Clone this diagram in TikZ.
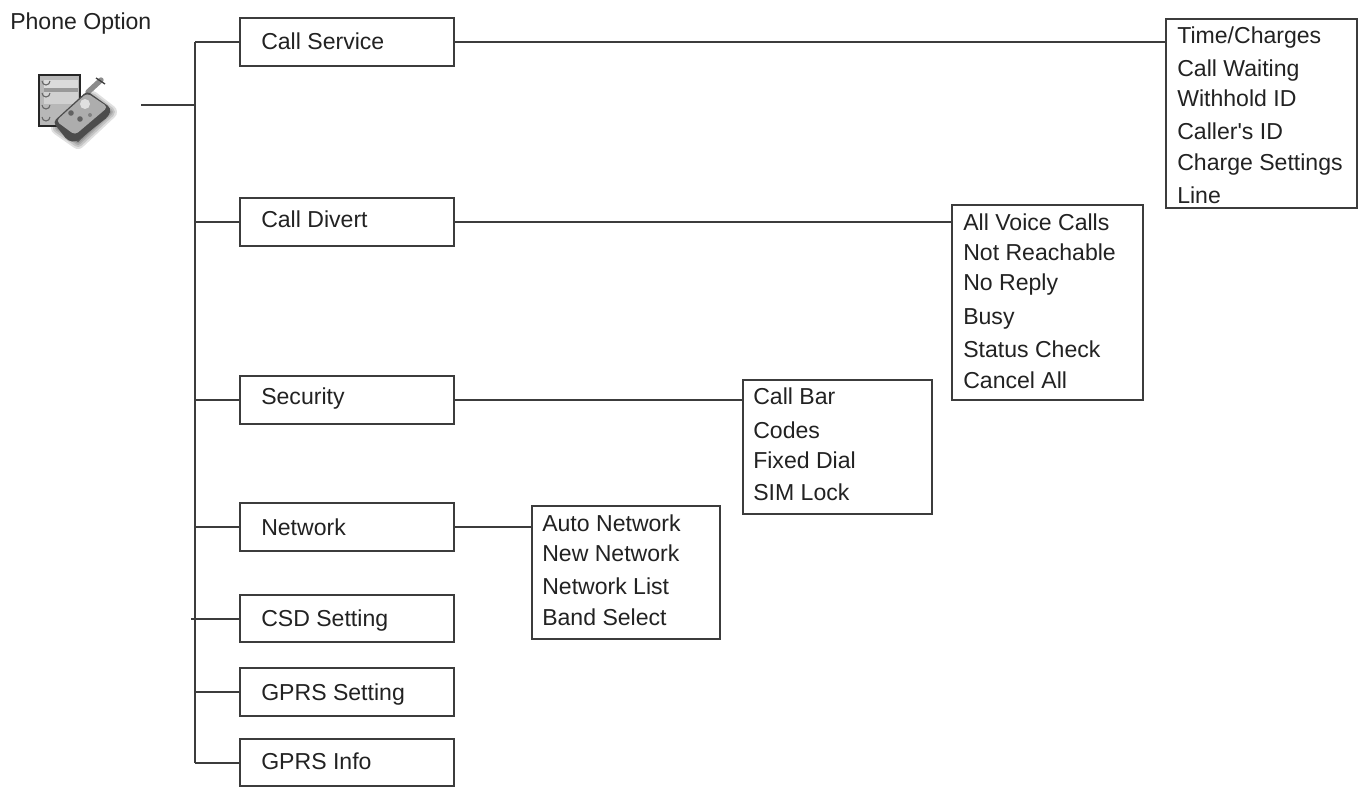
\documentclass[tikz,border=0pt]{standalone}
\usepackage{fontspec}
\newfontfamily\plainsans{Liberation Sans}
\definecolor{ln}{HTML}{3C3C3C}
\definecolor{tx}{HTML}{222222}
\tikzset{
 mbox/.style={draw=ln,line width=1.3pt,fill=white,inner sep=0pt},
 conn/.style={draw=ln,line width=1.5pt},
 lab/.style={anchor=base west,inner sep=0pt,text=tx,font=\plainsans\fontsize{17.3pt}{20pt}\selectfont},
}
\begin{document}
\begin{tikzpicture}[x=0.75pt,y=-0.75pt]
\useasboundingbox (0,0) rectangle (1370,793);
\fill[white] (0,0) rectangle (1370,793);
% main boxes
\node[mbox,minimum width=160.5pt,minimum height=36.5pt] (svc) at (347,42) {};
\node[mbox,minimum width=160.5pt,minimum height=36pt] (div) at (347,222) {};
\node[mbox,minimum width=160.5pt,minimum height=36.5pt] (sec) at (347,400) {};
\node[mbox,minimum width=160.5pt,minimum height=36pt] (net) at (347,527) {};
\node[mbox,minimum width=160.5pt,minimum height=35.25pt] (csd) at (347,618.5) {};
\node[mbox,minimum width=160.5pt,minimum height=36pt] (gs) at (347,692) {};
\node[mbox,minimum width=160.5pt,minimum height=35.25pt] (gi) at (347,762.5) {};
% sub boxes
\node[mbox,minimum width=143.25pt,minimum height=141.75pt] (tc) at (1261.5,113.5) {};
\node[mbox,minimum width=143.25pt,minimum height=146.25pt] (dv) at (1047.5,302.5) {};
\node[mbox,minimum width=141.75pt,minimum height=100.5pt] (sc) at (837.5,447) {};
\node[mbox,minimum width=141pt,minimum height=99.75pt] (nw) at (626,572.5) {};
% spine
\coordinate (top) at (195,42);
\coordinate (bot) at (195,762.5);
\coordinate (stub) at (141,105);
\draw[conn] (top) -- (bot);
\draw[conn] (stub) -- (stub -| top);
\foreach \n in {svc,div,sec,net,gs,gi}{\draw[conn] (\n.west) -- (\n.west -| top);}
\draw[conn] (csd.west) -- ([xshift=-3pt]csd.west -| top);
% horizontal links
\draw[conn] (svc.east) -- (svc.east -| tc.west);
\draw[conn] (div.east) -- (div.east -| dv.west);
\draw[conn] (sec.east) -- (sec.east -| sc.west);
\draw[conn] (net.east) -- (net.east -| nw.west);
% labels
\node[lab] (t0) at (10,29) {Phone Option};
\node[lab] (t1) at (261,49) {Call Service};
\node[lab] (t2) at (261,227) {Call Divert};
\node[lab] (t3) at (261,404) {Security};
\node[lab] (t4) at (261,535) {Network};
\node[lab] (t5) at (261,626) {CSD Setting};
\node[lab] (t6) at (261,700) {GPRS Setting};
\node[lab] (t7) at (261,769) {GPRS Info};
\node[lab] (a1) at (1177,43) {Time/Charges};
\node[lab] (a2) at (1177,76) {Call Waiting};
\node[lab] (a3) at (1177,106) {Withhold ID};
\node[lab] (a4) at (1177,139) {Caller's ID};
\node[lab] (a5) at (1177,170) {Charge Settings};
\node[lab] (a6) at (1177,203) {Line};
\node[lab] (b1) at (963,230) {All Voice Calls};
\node[lab] (b2) at (963,260) {Not Reachable};
\node[lab] (b3) at (963,290) {No Reply};
\node[lab] (b4) at (963,324) {Busy};
\node[lab] (b5) at (963,357) {Status Check};
\node[lab] (b6) at (963,388) {Cancel All};
\node[lab] (c1) at (753,404) {Call Bar};
\node[lab] (c2) at (753,438) {Codes};
\node[lab] (c3) at (753,468) {Fixed Dial};
\node[lab] (c4) at (753,500) {SIM Lock};
\node[lab] (d1) at (542,531) {Auto Network};
\node[lab] (d2) at (542,561) {New Network};
\node[lab] (d3) at (542,594) {Network List};
\node[lab] (d4) at (542,625) {Band Select};
% icon: soft shadow
\foreach \w in {14,10,6,3}{
 \fill[black,opacity=0.12,draw=black,line width=\w*0.75pt,line join=round]
   (58,128) -- (92,98) -- (110,112) -- (78,142) -- cycle;}
% icon: list
\draw[fill=black!28,line width=1.1pt,draw=black!85] (39,75) rectangle (80,126);
\fill[black!14] (44,80) rectangle (78,88);
\fill[black!40] (44,88) rectangle (78,92);
\fill[black!18] (44,92) rectangle (78,104);
\foreach \yy in {84,96,108,120}{\draw[black!60,line width=0.8pt] (42,\yy-3) arc[start angle=180,end angle=0,radius=4];}
% icon: antenna
\draw[black!45,line width=4pt,line cap=round] (88,92) -- (101,80);
\draw[black!75,line width=1pt] (96,78) -- (105,84);
% icon: phone
\fill[black!70,rounded corners=3pt] (53,122) -- (87,91) -- (111,108) -- (109,116) -- (76,142) -- (68,141) -- cycle;
\fill[black!32,rounded corners=3pt] (56,121) -- (87,93) -- (108,107) -- (75,135) -- cycle;
\fill[black!12] (85,104) circle (5);
\fill[black!62] (71,113) circle (2.8);
\fill[black!62] (80,119) circle (2.8);
\fill[black!50] (90,115) circle (2);
\end{tikzpicture}
\end{document}
